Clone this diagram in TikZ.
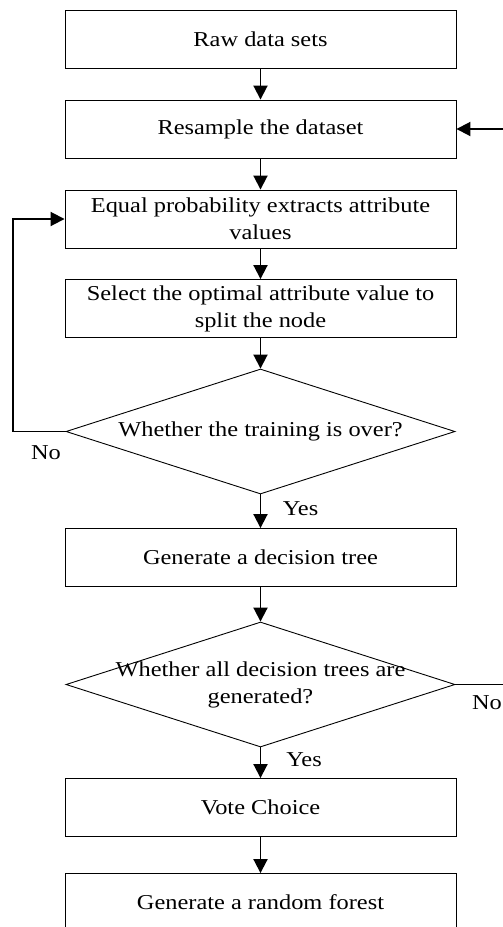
\documentclass[tikz,border=0pt]{standalone}
\usepackage{fontspec}
\setmainfont{Liberation Serif}[FakeStretch=1.15]
\usetikzlibrary{arrows.meta,shapes.geometric}

\begin{document}
\begin{tikzpicture}[x=1pt, y=-1pt,
  stepbox/.style={draw, line width=0.9pt, minimum width=391pt, minimum height=58pt,
    inner sep=0pt, align=center, font=\fontsize{21.2}{27}\selectfont},
  decision/.style={draw, diamond, line width=0.9pt, minimum width=389pt,
    minimum height=125pt, inner sep=0pt},
  txt/.style={align=center, inner sep=0pt, font=\fontsize{21.2}{27}\selectfont},
  flow/.style={line width=1.9pt, -{Triangle[length=14pt,width=14pt]}}]

%─────────────
% Frame (the reference is cut at the right and bottom edges)
%─────────────
\useasboundingbox (0,0) rectangle (503,927);
\clip (0,0) rectangle (503,927);
\def\midx{260.5}  % centre line of the chart

%─────────────
% Steps and decisions
%─────────────
\node[stepbox] (raw)      at (\midx,39.5)  {Raw data sets};
\node[stepbox] (resample) at (\midx,129)   {Resample the dataset};
\node[stepbox] (extract)  at (\midx,219)   {Equal probability extracts attribute\\values};
\node[stepbox] (select)   at (\midx,308.5) {Select the optimal attribute value to\\split the node};
\node[decision] (train)   at (\midx,431.5) {};
\node[txt] (trainq)       at (train)       {Whether the training is over?};
\node[stepbox] (tree)     at (\midx,557.5) {Generate a decision tree};
\node[decision] (alltrees) at (\midx,684.5) {};
\node[txt] (allq)         at (alltrees)    {Whether all decision trees are\\generated?};
\node[stepbox] (vote)     at (\midx,807.5) {Vote Choice};
\node[stepbox] (forest)   at (\midx,902.5) {Generate a random forest};

%─────────────
% Main flow
%─────────────
\draw[flow] (raw) -- (resample);
\draw[flow] (resample) -- (extract);
\draw[flow] (extract) -- (select);
\draw[flow] (select) -- (train);
\draw[flow] (train) -- (tree);
\draw[flow] (tree) -- (alltrees);
\draw[flow] (alltrees) -- (vote);
\draw[flow] (vote) -- (forest);

%─────────────
% Loops back
%─────────────
\draw[flow] (train.west) -- ++(-53,0) |- (extract.west);
\draw[flow] (alltrees.east) -- ++(70,0) |- (resample.east);

%─────────────
% Labels
%─────────────
\node[txt] (no1)  at (46,453)  {No};
\node[txt] (yes1) at (300.5,509) {Yes};
\node[txt] (yes2) at (304,760) {Yes};
\node[txt, anchor=east] (no2) at (502,703) {No};

\end{tikzpicture}
\end{document}
